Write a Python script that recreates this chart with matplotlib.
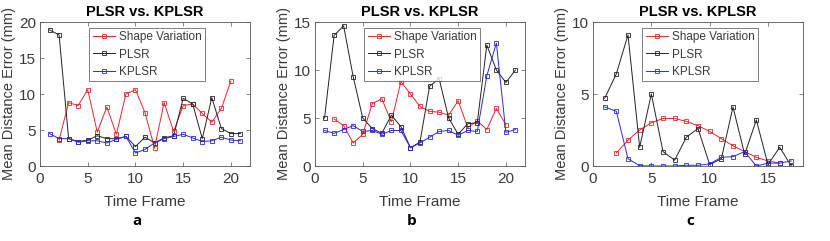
import matplotlib
matplotlib.use("Agg")
import matplotlib.pyplot as plt

plt.rcParams['font.family'] = ['Liberation Sans', 'DejaVu Sans']

# panel a
a_shape_x = list(range(2, 21))
a_shape = [3.6, 8.8, 8.4, 10.6, 4.7, 8.2, 4.4, 10.0, 10.6, 7.4, 2.5, 8.8, 4.8, 8.4, 8.6, 7.3, 6.1, 8.0, 11.8]
a_x = list(range(1, 22))
a_plsr = [18.9, 18.2, 3.8, 3.4, 3.6, 4.2, 3.8, 3.8, 4.1, 2.7, 4.0, 3.2, 3.9, 4.2, 9.4, 8.6, 3.8, 9.5, 5.2, 4.5, 4.5]
a_kplsr = [4.5, 3.8, 3.8, 3.3, 3.5, 3.5, 3.2, 3.7, 4.1, 1.8, 2.3, 3.2, 3.8, 4.1, 4.4, 3.9, 3.4, 3.5, 4.0, 3.6, 3.5]

# panel b
b_shape_x = list(range(2, 21))
b_shape = [4.9, 4.2, 2.4, 3.3, 6.5, 7.0, 4.6, 8.8, 7.5, 6.2, 5.7, 5.6, 5.3, 6.8, 4.0, 4.7, 3.8, 6.0, 4.3]
b_x = list(range(1, 22))
b_plsr = [5.0, 13.6, 14.6, 9.3, 5.0, 3.9, 3.4, 5.3, 4.1, 1.9, 2.5, 8.3, 9.1, 5.0, 3.3, 4.4, 4.5, 12.6, 10.0, 8.7, 10.0]
b_kplsr = [3.7, 3.4, 3.8, 4.2, 3.6, 3.7, 3.3, 3.7, 3.7, 1.9, 2.4, 3.0, 3.6, 3.7, 3.2, 3.7, 3.6, 9.4, 12.8, 3.5, 3.8]

# panel c
c_shape_x = list(range(2, 17))
c_shape = [0.9, 1.8, 2.5, 3.0, 3.3, 3.3, 3.1, 2.8, 2.4, 1.9, 1.4, 1.0, 0.6, 0.35, 0.2]
c_x = list(range(1, 18))
c_plsr = [4.7, 6.4, 9.1, 1.3, 5.0, 1.0, 0.4, 2.0, 2.6, 0.1, 0.5, 4.1, 0.8, 3.2, 0.1, 1.3, 0.0]
c_kplsr = [4.1, 3.8, 0.5, 0.02, 0.0, 0.0, 0.0, 0.05, 0.05, 0.15, 0.6, 0.65, 1.0, 0.0, 0.2, 0.2, 0.35]

panels = [
    ("a", a_shape_x, a_shape, a_x, a_plsr, a_kplsr, 22, 20, [0, 5, 10, 15, 20], [0, 5, 10, 15, 20]),
    ("b", b_shape_x, b_shape, b_x, b_plsr, b_kplsr, 22, 15, [0, 5, 10, 15], [0, 5, 10, 15, 20]),
    ("c", c_shape_x, c_shape, c_x, c_plsr, c_kplsr, 18, 10, [0, 5, 10], [0, 5, 10, 15]),
]
lefts = [40, 315, 593]
W, H = 830, 241
txt = '#3a3a3a'

fig = plt.figure(figsize=(W / 100, H / 100), dpi=100)
for (lab, sx, sy, x, plsr, kplsr, xmax, ymax, yt, xt), left in zip(panels, lefts):
    ax = fig.add_axes([left / W, (H - 166) / H, 210 / W, 144 / H])
    mk = dict(marker='s', markersize=3.4, markerfacecolor='none', markeredgewidth=0.6, linewidth=0.7)
    ax.plot(sx, sy, color='#e8262b', label='Shape Variation', **mk)
    ax.plot(x, plsr, color='#222222', label='PLSR', **mk)
    ax.plot(x, kplsr, color='#2a2ae0', label='KPLSR', **mk)
    ax.set_xlim(0, xmax)
    ax.set_ylim(0, ymax)
    ax.set_yticks(yt)
    ax.set_xticks(xt)
    ax.tick_params(direction='in', top=True, right=True, length=3, width=0.5,
                   labelsize=11, colors='#555555', labelcolor=txt)
    ax.tick_params(axis='x', pad=4)
    ax.tick_params(axis='y', pad=3)
    for s in ax.spines.values():
        s.set_linewidth(0.6)
        s.set_color('#555555')
    ax.set_title('PLSR vs. KPLSR', fontsize=10.5, fontweight='bold', color='black', pad=4)
    ax.set_xlabel('Time Frame', fontsize=11, color=txt, labelpad=7)
    ax.set_ylabel('Mean Distance Error (mm)', fontsize=10.5, color=txt, labelpad=2)
    leg = ax.legend(loc='upper center', bbox_to_anchor=(0.51, 0.985), fontsize=8.5,
                    frameon=True, fancybox=False, handlelength=1.9, handletextpad=0.3,
                    borderpad=0.3, labelspacing=0.45, borderaxespad=0.3)
    leg.get_frame().set_edgecolor('#444444')
    leg.get_frame().set_linewidth(0.6)
    for t in leg.get_texts():
        t.set_color(txt)
    fig.text((left + 97) / W, (H - 221) / H, lab, fontsize=11, fontweight='bold',
             ha='center', va='center', family=['Open Sans', 'DejaVu Sans'])

fig.savefig('out.png', dpi=100)
